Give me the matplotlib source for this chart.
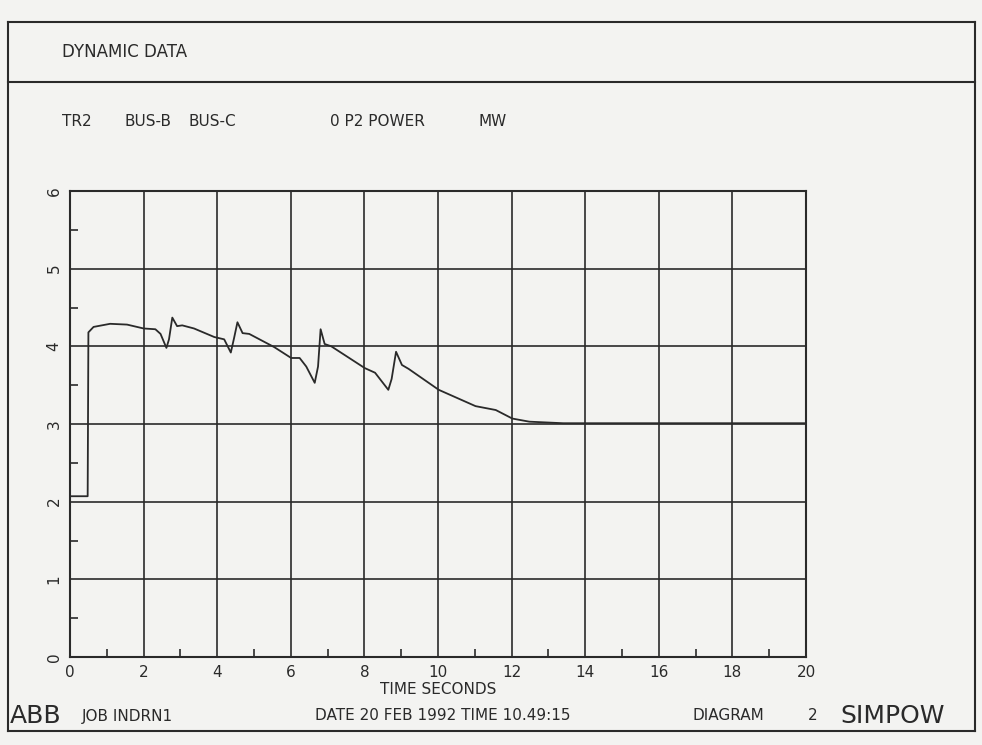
import matplotlib
matplotlib.use('Agg')
import matplotlib.pyplot as plt
from matplotlib.lines import Line2D

plt.rcParams['font.family'] = ['Liberation Sans Narrow', 'DejaVu Sans']

# simulated power on TR2 BUS-B / BUS-C
time_s = [0.0, 0.48, 0.5, 0.64, 1.09, 1.55, 2.0, 2.32, 2.46, 2.62, 2.69, 2.78, 2.91,
          3.05, 3.37, 3.92, 4.19, 4.37, 4.46, 4.55, 4.69, 4.87, 5.55, 6.01, 6.24,
          6.42, 6.65, 6.74, 6.81, 6.92, 7.1, 8.01, 8.29, 8.65, 8.74, 8.86, 9.02,
          9.2, 10.02, 11.02, 11.57, 12.02, 12.48, 13.4, 20.0]
power_mw = [2.07, 2.07, 4.18, 4.25, 4.29, 4.28, 4.23, 4.22, 4.16, 3.98, 4.09, 4.37, 4.26,
            4.27, 4.23, 4.12, 4.09, 3.92, 4.11, 4.31, 4.17, 4.16, 3.99, 3.85, 3.85,
            3.74, 3.53, 3.74, 4.22, 4.03, 4.0, 3.72, 3.66, 3.44, 3.58, 3.93, 3.76,
            3.71, 3.44, 3.23, 3.18, 3.07, 3.03, 3.01, 3.01]

x_ticks = [0, 2, 4, 6, 8, 10, 12, 14, 16, 18, 20]
y_ticks = [0, 1, 2, 3, 4, 5, 6]

header_items = ['TR2', 'BUS-B', 'BUS-C', '0 P2 POWER', 'MW']
footer_items = ['ABB', 'JOB INDRN1', 'DATE 20 FEB 1992 TIME 10.49:15', 'DIAGRAM', '2', 'SIMPOW']

ink = '#2a2a2a'
paper = '#f3f3f1'

fig = plt.figure(figsize=(9.82, 7.45), dpi=100, facecolor=paper)

# page frame
W, H = 982, 745
def fx(px): return px / W
def fy(py): return 1 - py / H
for xs, ys in [([8, 975], [22, 22]), ([8, 975], [82, 82]), ([8, 975], [731, 731]),
               ([8, 8], [22, 731]), ([975, 975], [22, 731])]:
    fig.add_artist(Line2D([fx(x) for x in xs], [fy(y) for y in ys], color=ink, lw=1.5))

fig.text(fx(62), fy(52), 'DYNAMIC DATA', fontsize=12, color=ink, va='center')
for label, px in zip(header_items, [62, 125, 188, 330, 478]):
    fig.text(fx(px), fy(122), label, fontsize=11, color=ink, va='center')

ax = fig.add_axes([fx(70), fy(657), fx(806) - fx(70), fy(191) - fy(657)])
ax.set_facecolor(paper)
ax.plot(time_s, power_mw, color=ink, lw=1.3)

ax.set_xlim(0, 20)
ax.set_ylim(0, 6)
ax.set_xticks(x_ticks)
ax.set_yticks(y_ticks)
ax.set_xticks(range(1, 20, 2), minor=True)
ax.set_yticks([0.5 + i for i in range(6)], minor=True)
ax.grid(True, which='major', color=ink, lw=1.2)
ax.tick_params(which='major', length=0, labelsize=11, labelcolor=ink, pad=6)
ax.tick_params(which='minor', direction='in', length=6, width=1.2, color=ink)
ax.tick_params(axis='y', which='minor', right=False)
ax.tick_params(axis='x', which='minor', top=False)
for lbl in ax.get_yticklabels():
    lbl.set_rotation(90)
    lbl.set_va('center')
for sp in ax.spines.values():
    sp.set_color(ink)
    sp.set_linewidth(1.5)
ax.set_xlabel('TIME SECONDS', fontsize=11, color=ink, labelpad=1)

foot_pos = [(10, 18), (82, 11), (315, 11), (693, 11), (808, 11), (840, 18)]
for label, (px, fs) in zip(footer_items, foot_pos):
    fig.text(fx(px), fy(716), label, fontsize=fs, color=ink, va='center')

fig.savefig('out.png', dpi=100, facecolor=paper)
